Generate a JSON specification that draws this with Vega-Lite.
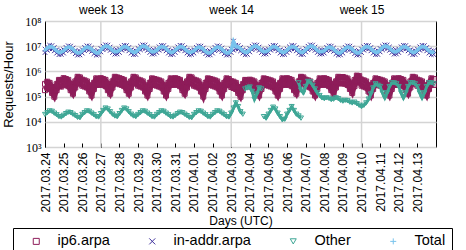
{
"$schema":"https://vega.github.io/schema/vega-lite/v6.json",
"width":391,"height":126,
"autosize":{"type":"none"},
"padding":{"left":45,"top":21,"right":30,"bottom":103},
"config":{"view":{"stroke":"#000","strokeWidth":1},"font":"Liberation Sans",
"axis":{"labelColor":"#000","titleColor":"#000","labelFont":"Liberation Sans","titleFont":"Liberation Sans","titleFontWeight":"normal"},
"axisY":{"labelFont":"Liberation Serif","labelFontSize":12,"grid":true,"gridColor":"#d4d4d4","gridWidth":1.5,"ticks":false,"domain":false,"labelPadding":4,"titleFontSize":13,"titlePadding":9}},
"data":{"values":[
{"t":"2017-03-24T00:00Z","p":3.2e5,"q":1.8e5,"a":7.7e6,"b":5.6e6,"o":1.95e4,"u":6.9e6},
{"t":"2017-03-24T03:00Z","p":3.9e5,"q":2.2e5,"a":9.5e6,"b":6.9e6,"o":2.3e4,"u":8.5e6},
{"t":"2017-03-24T06:00Z","p":3.5e5,"q":2.0e5,"a":1.09e7,"b":7.9e6,"o":2.7e4,"u":9.7e6},
{"t":"2017-03-24T09:00Z","p":2.4e5,"q":1.4e5,"a":1.06e7,"b":7.7e6,"o":2.6e4,"u":9.4e6},
{"t":"2017-03-24T12:00Z","p":1.7e5,"q":9.9e4,"a":8.9e6,"b":6.5e6,"o":2.2e4,"u":8.0e6},
{"t":"2017-03-24T15:00Z","p":3.1e5,"q":1.8e5,"a":7.2e6,"b":5.3e6,"o":1.9e4,"u":6.5e6},
{"t":"2017-03-24T18:00Z","p":4.6e5,"q":2.7e5,"a":6.4e6,"b":4.6e6,"o":1.6e4,"u":5.7e6},
{"t":"2017-03-24T21:00Z","p":4.4e5,"q":2.5e5,"a":6.6e6,"b":4.7e6,"o":1.55e4,"u":5.8e6},
{"t":"2017-03-25T00:00Z","p":5.4e5,"q":3.1e5,"a":7.3e6,"b":5.3e6,"o":1.8e4,"u":6.6e6},
{"t":"2017-03-25T03:00Z","p":5.0e5,"q":2.9e5,"a":9.0e6,"b":6.6e6,"o":2.1e4,"u":8.1e6},
{"t":"2017-03-25T06:00Z","p":4.6e5,"q":2.6e5,"a":1.04e7,"b":7.5e6,"o":2.4e4,"u":9.2e6},
{"t":"2017-03-25T09:00Z","p":3.2e5,"q":1.8e5,"a":1.01e7,"b":7.3e6,"o":2.3e4,"u":8.9e6},
{"t":"2017-03-25T12:00Z","p":2.2e5,"q":1.3e5,"a":8.5e6,"b":6.2e6,"o":2.0e4,"u":7.6e6},
{"t":"2017-03-25T15:00Z","p":4.0e5,"q":2.3e5,"a":6.8e6,"b":5.0e6,"o":1.75e4,"u":6.2e6},
{"t":"2017-03-25T18:00Z","p":6.1e5,"q":3.5e5,"a":6.1e6,"b":4.4e6,"o":1.5e4,"u":5.4e6},
{"t":"2017-03-25T21:00Z","p":5.8e5,"q":3.3e5,"a":6.3e6,"b":4.5e6,"o":1.45e4,"u":5.5e6},
{"t":"2017-03-26T00:00Z","p":4.7e5,"q":2.7e5,"a":7.3e6,"b":5.3e6,"o":1.95e4,"u":6.6e6},
{"t":"2017-03-26T03:00Z","p":4.4e5,"q":2.5e5,"a":9.0e6,"b":6.6e6,"o":2.3e4,"u":8.1e6},
{"t":"2017-03-26T06:00Z","p":4.0e5,"q":2.3e5,"a":1.04e7,"b":7.5e6,"o":2.7e4,"u":9.2e6},
{"t":"2017-03-26T09:00Z","p":2.8e5,"q":1.6e5,"a":1.01e7,"b":7.3e6,"o":2.6e4,"u":8.9e6},
{"t":"2017-03-26T12:00Z","p":2.0e5,"q":1.1e5,"a":8.5e6,"b":6.2e6,"o":2.2e4,"u":7.6e6},
{"t":"2017-03-26T15:00Z","p":3.5e5,"q":2.0e5,"a":6.8e6,"b":5.0e6,"o":1.9e4,"u":6.2e6},
{"t":"2017-03-26T18:00Z","p":5.3e5,"q":3.0e5,"a":6.1e6,"b":4.4e6,"o":1.6e4,"u":5.4e6},
{"t":"2017-03-26T21:00Z","p":5.0e5,"q":2.9e5,"a":6.3e6,"b":4.5e6,"o":1.55e4,"u":5.5e6},
{"t":"2017-03-27T00:00Z","p":5.4e5,"q":3.1e5,"a":8.1e6,"b":5.9e6,"o":2.1e4,"u":7.2e6},
{"t":"2017-03-27T03:00Z","p":5.0e5,"q":2.9e5,"a":1.0e7,"b":7.2e6,"o":2.8e4,"u":8.9e6},
{"t":"2017-03-27T06:00Z","p":4.6e5,"q":2.6e5,"a":1.14e7,"b":8.3e6,"o":3.5e4,"u":1.02e7},
{"t":"2017-03-27T09:00Z","p":3.2e5,"q":1.8e5,"a":1.11e7,"b":8.1e6,"o":3.2e4,"u":9.9e6},
{"t":"2017-03-27T12:00Z","p":2.2e5,"q":1.3e5,"a":9.3e6,"b":6.8e6,"o":2.5e4,"u":8.4e6},
{"t":"2017-03-27T15:00Z","p":4.0e5,"q":2.3e5,"a":7.6e6,"b":5.6e6,"o":2.0e4,"u":6.8e6},
{"t":"2017-03-27T18:00Z","p":6.1e5,"q":3.5e5,"a":6.7e6,"b":4.8e6,"o":1.7e4,"u":6.0e6},
{"t":"2017-03-27T21:00Z","p":5.8e5,"q":3.3e5,"a":6.9e6,"b":4.9e6,"o":1.6e4,"u":6.1e6},
{"t":"2017-03-28T00:00Z","p":5.4e5,"q":3.1e5,"a":7.7e6,"b":5.6e6,"o":2.1e4,"u":6.9e6},
{"t":"2017-03-28T03:00Z","p":5.0e5,"q":2.9e5,"a":9.5e6,"b":6.9e6,"o":2.8e4,"u":8.5e6},
{"t":"2017-03-28T06:00Z","p":4.6e5,"q":2.6e5,"a":1.09e7,"b":7.9e6,"o":3.5e4,"u":9.7e6},
{"t":"2017-03-28T09:00Z","p":3.2e5,"q":1.8e5,"a":1.06e7,"b":7.7e6,"o":3.2e4,"u":9.4e6},
{"t":"2017-03-28T12:00Z","p":2.2e5,"q":1.3e5,"a":8.9e6,"b":6.5e6,"o":2.5e4,"u":8.0e6},
{"t":"2017-03-28T15:00Z","p":4.0e5,"q":2.3e5,"a":7.2e6,"b":5.3e6,"o":2.0e4,"u":6.5e6},
{"t":"2017-03-28T18:00Z","p":6.1e5,"q":3.5e5,"a":6.4e6,"b":4.6e6,"o":1.7e4,"u":5.7e6},
{"t":"2017-03-28T21:00Z","p":5.8e5,"q":3.3e5,"a":6.6e6,"b":4.7e6,"o":1.6e4,"u":5.8e6},
{"t":"2017-03-29T00:00Z","p":4.7e5,"q":2.7e5,"a":8.1e6,"b":5.9e6,"o":1.95e4,"u":7.2e6},
{"t":"2017-03-29T03:00Z","p":4.4e5,"q":2.5e5,"a":1.0e7,"b":7.2e6,"o":2.3e4,"u":8.9e6},
{"t":"2017-03-29T06:00Z","p":4.0e5,"q":2.3e5,"a":1.14e7,"b":8.3e6,"o":2.7e4,"u":1.02e7},
{"t":"2017-03-29T09:00Z","p":2.8e5,"q":1.6e5,"a":1.11e7,"b":8.1e6,"o":2.6e4,"u":9.9e6},
{"t":"2017-03-29T12:00Z","p":2.0e5,"q":1.1e5,"a":9.3e6,"b":6.8e6,"o":2.2e4,"u":8.4e6},
{"t":"2017-03-29T15:00Z","p":3.5e5,"q":2.0e5,"a":7.6e6,"b":5.6e6,"o":1.9e4,"u":6.8e6},
{"t":"2017-03-29T18:00Z","p":5.3e5,"q":3.0e5,"a":6.7e6,"b":4.8e6,"o":1.6e4,"u":6.0e6},
{"t":"2017-03-29T21:00Z","p":5.0e5,"q":2.9e5,"a":6.9e6,"b":4.9e6,"o":1.55e4,"u":6.1e6},
{"t":"2017-03-30T00:00Z","p":4.7e5,"q":2.7e5,"a":7.7e6,"b":5.6e6,"o":1.95e4,"u":6.9e6},
{"t":"2017-03-30T03:00Z","p":4.4e5,"q":2.5e5,"a":9.5e6,"b":6.9e6,"o":2.3e4,"u":8.5e6},
{"t":"2017-03-30T06:00Z","p":4.0e5,"q":2.3e5,"a":1.09e7,"b":7.9e6,"o":2.7e4,"u":9.7e6},
{"t":"2017-03-30T09:00Z","p":2.8e5,"q":1.6e5,"a":1.06e7,"b":7.7e6,"o":2.6e4,"u":9.4e6},
{"t":"2017-03-30T12:00Z","p":2.0e5,"q":1.1e5,"a":8.9e6,"b":6.5e6,"o":2.2e4,"u":8.0e6},
{"t":"2017-03-30T15:00Z","p":3.5e5,"q":2.0e5,"a":7.2e6,"b":5.3e6,"o":1.9e4,"u":6.5e6},
{"t":"2017-03-30T18:00Z","p":5.3e5,"q":3.0e5,"a":6.4e6,"b":4.6e6,"o":1.6e4,"u":5.7e6},
{"t":"2017-03-30T21:00Z","p":5.0e5,"q":2.9e5,"a":6.6e6,"b":4.7e6,"o":1.55e4,"u":5.8e6},
{"t":"2017-03-31T00:00Z","p":5.4e5,"q":3.1e5,"a":7.7e6,"b":5.6e6,"o":1.8e4,"u":6.9e6},
{"t":"2017-03-31T03:00Z","p":5.0e5,"q":2.9e5,"a":9.5e6,"b":6.9e6,"o":2.1e4,"u":8.5e6},
{"t":"2017-03-31T06:00Z","p":4.6e5,"q":2.6e5,"a":1.09e7,"b":7.9e6,"o":2.4e4,"u":9.7e6},
{"t":"2017-03-31T09:00Z","p":3.2e5,"q":1.8e5,"a":1.06e7,"b":7.7e6,"o":2.3e4,"u":9.4e6},
{"t":"2017-03-31T12:00Z","p":2.2e5,"q":1.3e5,"a":8.9e6,"b":6.5e6,"o":2.0e4,"u":8.0e6},
{"t":"2017-03-31T15:00Z","p":4.0e5,"q":2.3e5,"a":7.2e6,"b":5.3e6,"o":1.75e4,"u":6.5e6},
{"t":"2017-03-31T18:00Z","p":6.1e5,"q":3.5e5,"a":6.4e6,"b":4.6e6,"o":1.5e4,"u":5.7e6},
{"t":"2017-03-31T21:00Z","p":5.8e5,"q":3.3e5,"a":6.6e6,"b":4.7e6,"o":1.45e4,"u":5.8e6},
{"t":"2017-04-01T00:00Z","p":4.7e5,"q":2.7e5,"a":7.3e6,"b":5.3e6,"o":1.95e4,"u":6.6e6},
{"t":"2017-04-01T03:00Z","p":4.4e5,"q":2.5e5,"a":9.0e6,"b":6.6e6,"o":2.3e4,"u":8.1e6},
{"t":"2017-04-01T06:00Z","p":4.0e5,"q":2.3e5,"a":1.04e7,"b":7.5e6,"o":2.7e4,"u":9.2e6},
{"t":"2017-04-01T09:00Z","p":2.8e5,"q":1.6e5,"a":1.01e7,"b":7.3e6,"o":2.6e4,"u":8.9e6},
{"t":"2017-04-01T12:00Z","p":1.8e5,"q":1.0e5,"a":8.5e6,"b":6.2e6,"o":2.2e4,"u":7.6e6},
{"t":"2017-04-01T15:00Z","p":3.5e5,"q":2.0e5,"a":6.8e6,"b":5.0e6,"o":1.9e4,"u":6.2e6},
{"t":"2017-04-01T18:00Z","p":5.3e5,"q":3.0e5,"a":6.1e6,"b":4.4e6,"o":1.6e4,"u":5.4e6},
{"t":"2017-04-01T21:00Z","p":5.0e5,"q":2.9e5,"a":6.3e6,"b":4.5e6,"o":1.55e4,"u":5.5e6},
{"t":"2017-04-02T00:00Z","p":4.7e5,"q":2.7e5,"a":7.3e6,"b":5.3e6,"o":1.95e4,"u":6.6e6},
{"t":"2017-04-02T03:00Z","p":4.4e5,"q":2.5e5,"a":9.0e6,"b":6.6e6,"o":2.3e4,"u":8.1e6},
{"t":"2017-04-02T06:00Z","p":4.0e5,"q":2.3e5,"a":1.04e7,"b":7.5e6,"o":2.7e4,"u":9.2e6},
{"t":"2017-04-02T09:00Z","p":2.8e5,"q":1.6e5,"a":1.01e7,"b":7.3e6,"o":2.6e4,"u":8.9e6},
{"t":"2017-04-02T12:00Z","p":2.0e5,"q":1.1e5,"a":8.5e6,"b":6.2e6,"o":2.2e4,"u":7.6e6},
{"t":"2017-04-02T15:00Z","p":3.5e5,"q":2.0e5,"a":6.8e6,"b":5.0e6,"o":1.9e4,"u":6.2e6},
{"t":"2017-04-02T18:00Z","p":5.3e5,"q":3.0e5,"a":6.1e6,"b":4.4e6,"o":1.6e4,"u":5.4e6},
{"t":"2017-04-02T21:00Z","p":5.0e5,"q":2.9e5,"a":6.3e6,"b":4.5e6,"o":1.55e4,"u":5.5e6},
{"t":"2017-04-03T00:00Z","p":4.1e5,"q":2.4e5,"a":7.7e6,"b":5.6e6,"o":2.2e4,"u":6.9e6},
{"t":"2017-04-03T03:00Z","p":3.9e5,"q":2.2e5,"a":1.6e7,"b":6.9e6,"o":3.5e4,"u":1.5e7},
{"t":"2017-04-03T06:00Z","p":3.5e5,"q":2.0e5,"a":1.09e7,"b":7.9e6,"o":5.6e4,"u":9.7e6},
{"t":"2017-04-03T09:00Z","p":2.4e5,"q":1.4e5,"a":1.06e7,"b":7.7e6,"o":4.0e4,"u":9.4e6},
{"t":"2017-04-03T12:00Z","p":1.7e5,"q":9.9e4,"a":8.9e6,"b":6.5e6,"o":2.5e4,"u":8.0e6},
{"t":"2017-04-03T15:00Z","p":3.1e5,"q":1.8e5,"a":7.2e6,"b":5.3e6,"o":2.0e4,"u":6.5e6},
{"t":"2017-04-03T18:00Z","p":4.6e5,"q":2.7e5,"a":6.4e6,"b":4.6e6,"w":2.0e5,"u":5.7e6},
{"t":"2017-04-03T21:00Z","p":4.4e5,"q":2.5e5,"a":6.6e6,"b":4.7e6,"w":2.2e5,"u":5.8e6},
{"t":"2017-04-04T00:00Z","p":4.7e5,"q":2.7e5,"a":8.1e6,"b":5.9e6,"w":2.4e5,"u":7.2e6},
{"t":"2017-04-04T03:00Z","p":4.4e5,"q":2.5e5,"a":1.0e7,"b":7.2e6,"w":1.6e5,"u":8.9e6},
{"t":"2017-04-04T06:00Z","p":4.0e5,"q":2.3e5,"a":1.14e7,"b":8.3e6,"w":7.9e4,"u":1.02e7},
{"t":"2017-04-04T09:00Z","p":2.8e5,"q":1.6e5,"a":1.11e7,"b":8.1e6,"w":1.26e5,"u":9.9e6},
{"t":"2017-04-04T12:00Z","p":2.0e5,"q":1.1e5,"a":9.3e6,"b":6.8e6,"w":2.2e5,"u":8.4e6},
{"t":"2017-04-04T15:00Z","p":3.5e5,"q":2.0e5,"a":7.6e6,"b":5.6e6,"w":2.0e5,"u":6.8e6},
{"t":"2017-04-04T18:00Z","p":5.3e5,"q":3.0e5,"a":6.7e6,"b":4.8e6,"o":1.6e4,"u":6.0e6},
{"t":"2017-04-04T21:00Z","p":5.0e5,"q":2.9e5,"a":6.9e6,"b":4.9e6,"o":1.4e4,"u":6.1e6},
{"t":"2017-04-05T00:00Z","p":4.7e5,"q":2.7e5,"a":7.7e6,"b":5.6e6,"o":2.0e4,"u":6.9e6},
{"t":"2017-04-05T03:00Z","p":4.4e5,"q":2.5e5,"a":9.5e6,"b":6.9e6,"o":2.8e4,"u":8.5e6},
{"t":"2017-04-05T06:00Z","p":4.0e5,"q":2.3e5,"a":1.09e7,"b":7.9e6,"o":3.8e4,"u":9.7e6},
{"t":"2017-04-05T09:00Z","p":2.8e5,"q":1.6e5,"a":1.06e7,"b":7.7e6,"o":3.2e4,"u":9.4e6},
{"t":"2017-04-05T12:00Z","p":2.0e5,"q":1.1e5,"a":8.9e6,"b":6.5e6,"o":2.2e4,"u":8.0e6},
{"t":"2017-04-05T15:00Z","p":3.5e5,"q":2.0e5,"a":7.2e6,"b":5.3e6,"o":1.6e4,"u":6.5e6},
{"t":"2017-04-05T18:00Z","p":5.3e5,"q":3.0e5,"a":6.4e6,"b":4.6e6,"o":1.2e4,"u":5.7e6},
{"t":"2017-04-05T21:00Z","p":5.0e5,"q":2.9e5,"a":6.6e6,"b":4.7e6,"o":1.26e4,"u":5.8e6},
{"t":"2017-04-06T00:00Z","p":5.4e5,"q":3.1e5,"a":7.7e6,"b":5.6e6,"o":2.0e4,"u":6.9e6},
{"t":"2017-04-06T03:00Z","p":5.0e5,"q":2.9e5,"a":9.5e6,"b":6.9e6,"o":2.8e4,"u":8.5e6},
{"t":"2017-04-06T06:00Z","p":4.6e5,"q":2.6e5,"a":1.09e7,"b":7.9e6,"o":4.0e4,"u":9.7e6},
{"t":"2017-04-06T09:00Z","p":3.2e5,"q":1.8e5,"a":1.06e7,"b":7.7e6,"o":2.8e4,"u":9.4e6},
{"t":"2017-04-06T12:00Z","p":2.2e5,"q":1.3e5,"a":8.9e6,"b":6.5e6,"o":2.0e4,"u":8.0e6},
{"t":"2017-04-06T15:00Z","p":4.0e5,"q":2.3e5,"a":7.2e6,"b":5.3e6,"o":1.7e4,"w":3.5e5,"u":6.5e6},
{"t":"2017-04-06T18:00Z","p":6.1e5,"q":3.5e5,"a":6.4e6,"b":4.6e6,"o":1.4e4,"w":1.8e5,"u":5.7e6},
{"t":"2017-04-06T21:00Z","p":5.8e5,"q":3.3e5,"a":6.6e6,"b":4.7e6,"w":1.4e5,"u":5.8e6},
{"t":"2017-04-07T00:00Z","p":4.7e5,"q":2.7e5,"a":8.1e6,"b":5.9e6,"w":2.5e5,"u":7.2e6},
{"t":"2017-04-07T03:00Z","p":4.4e5,"q":2.5e5,"a":1.0e7,"b":7.2e6,"w":4.0e5,"u":8.9e6},
{"t":"2017-04-07T06:00Z","p":4.0e5,"q":2.3e5,"a":1.14e7,"b":8.3e6,"w":3.8e5,"u":1.02e7},
{"t":"2017-04-07T09:00Z","p":2.8e5,"q":1.6e5,"a":1.11e7,"b":8.1e6,"w":2.8e5,"u":9.9e6},
{"t":"2017-04-07T12:00Z","p":2.0e5,"q":1.1e5,"a":9.3e6,"b":6.8e6,"w":2.0e5,"u":8.4e6},
{"t":"2017-04-07T15:00Z","p":3.5e5,"q":2.0e5,"a":7.6e6,"b":5.6e6,"w":1.4e5,"u":6.8e6},
{"t":"2017-04-07T18:00Z","p":5.3e5,"q":3.0e5,"a":6.7e6,"b":4.8e6,"w":1.1e5,"u":6.0e6},
{"t":"2017-04-07T21:00Z","p":5.0e5,"q":2.9e5,"a":6.9e6,"b":4.9e6,"w":8.9e4,"u":6.1e6},
{"t":"2017-04-08T00:00Z","p":5.4e5,"q":3.1e5,"a":7.3e6,"b":5.3e6,"w":8.3e4,"u":6.6e6},
{"t":"2017-04-08T03:00Z","p":5.0e5,"q":2.9e5,"a":9.0e6,"b":6.6e6,"w":8.9e4,"u":8.1e6},
{"t":"2017-04-08T06:00Z","p":4.6e5,"q":2.6e5,"a":1.04e7,"b":7.5e6,"w":8.5e4,"u":9.2e6},
{"t":"2017-04-08T09:00Z","p":3.2e5,"q":1.8e5,"a":1.01e7,"b":7.3e6,"w":7.6e4,"u":8.9e6},
{"t":"2017-04-08T12:00Z","p":2.2e5,"q":1.3e5,"a":8.5e6,"b":6.2e6,"w":7.9e4,"u":7.6e6},
{"t":"2017-04-08T15:00Z","p":4.0e5,"q":2.3e5,"a":6.8e6,"b":5.0e6,"w":8.9e4,"u":6.2e6},
{"t":"2017-04-08T18:00Z","p":6.1e5,"q":3.5e5,"a":6.1e6,"b":4.4e6,"w":8.3e4,"u":5.4e6},
{"t":"2017-04-08T21:00Z","p":5.8e5,"q":3.3e5,"a":6.3e6,"b":4.5e6,"w":7.1e4,"u":5.5e6},
{"t":"2017-04-09T00:00Z","p":6.0e5,"q":3.4e5,"a":7.3e6,"b":5.3e6,"w":6.6e4,"u":6.6e6},
{"t":"2017-04-09T03:00Z","p":5.6e5,"q":3.2e5,"a":9.0e6,"b":6.6e6,"w":7.1e4,"u":8.1e6},
{"t":"2017-04-09T06:00Z","p":5.2e5,"q":2.9e5,"a":1.04e7,"b":7.5e6,"w":6.8e4,"u":9.2e6},
{"t":"2017-04-09T09:00Z","p":3.6e5,"q":2.0e5,"a":1.01e7,"b":7.3e6,"w":6.0e4,"u":8.9e6},
{"t":"2017-04-09T12:00Z","p":2.5e5,"q":1.4e5,"a":8.5e6,"b":6.2e6,"w":5.6e4,"u":7.6e6},
{"t":"2017-04-09T15:00Z","p":4.5e5,"q":2.6e5,"a":6.8e6,"b":5.0e6,"w":6.0e4,"u":6.2e6},
{"t":"2017-04-09T18:00Z","p":6.8e5,"q":3.9e5,"a":6.1e6,"b":4.4e6,"w":5.2e4,"u":5.4e6},
{"t":"2017-04-09T21:00Z","p":6.5e5,"q":3.7e5,"a":6.3e6,"b":4.5e6,"w":4.5e4,"u":5.5e6},
{"t":"2017-04-10T00:00Z","p":4.7e5,"q":2.7e5,"a":7.7e6,"b":5.6e6,"w":4.0e4,"u":6.9e6},
{"t":"2017-04-10T03:00Z","p":4.4e5,"q":2.5e5,"a":9.5e6,"b":6.9e6,"w":4.5e4,"u":8.5e6},
{"t":"2017-04-10T06:00Z","p":4.0e5,"q":2.3e5,"a":1.09e7,"b":7.9e6,"w":5.6e4,"u":9.7e6},
{"t":"2017-04-10T09:00Z","p":2.8e5,"q":1.6e5,"a":1.06e7,"b":7.7e6,"w":7.9e4,"u":9.4e6},
{"t":"2017-04-10T12:00Z","p":2.0e5,"q":1.1e5,"a":8.9e6,"b":6.5e6,"w":1.26e5,"u":8.0e6},
{"t":"2017-04-10T15:00Z","p":3.5e5,"q":2.0e5,"a":7.2e6,"b":5.3e6,"w":2.2e5,"u":6.5e6},
{"t":"2017-04-10T18:00Z","p":5.3e5,"q":3.0e5,"a":6.4e6,"b":4.6e6,"w":3.2e5,"u":5.7e6},
{"t":"2017-04-10T21:00Z","p":5.0e5,"q":2.9e5,"a":6.6e6,"b":4.7e6,"w":2.8e5,"u":5.8e6},
{"t":"2017-04-11T00:00Z","p":4.7e5,"q":2.7e5,"a":8.1e6,"b":5.9e6,"w":2.5e5,"u":7.2e6},
{"t":"2017-04-11T03:00Z","p":4.4e5,"q":2.5e5,"a":1.0e7,"b":7.2e6,"w":1.4e5,"u":8.9e6},
{"t":"2017-04-11T06:00Z","p":4.0e5,"q":2.3e5,"a":1.14e7,"b":8.3e6,"w":8.9e4,"u":1.02e7},
{"t":"2017-04-11T09:00Z","p":2.8e5,"q":1.6e5,"a":1.11e7,"b":8.1e6,"w":1.4e5,"u":9.9e6},
{"t":"2017-04-11T12:00Z","p":2.0e5,"q":1.1e5,"a":9.3e6,"b":6.8e6,"w":2.5e5,"u":8.4e6},
{"t":"2017-04-11T15:00Z","p":3.5e5,"q":2.0e5,"a":7.6e6,"b":5.6e6,"w":3.5e5,"u":6.8e6},
{"t":"2017-04-11T18:00Z","p":5.3e5,"q":3.0e5,"a":6.7e6,"b":4.8e6,"w":3.5e5,"u":6.0e6},
{"t":"2017-04-11T21:00Z","p":5.0e5,"q":2.9e5,"a":6.9e6,"b":4.9e6,"w":3.2e5,"u":6.1e6},
{"t":"2017-04-12T00:00Z","p":5.4e5,"q":3.1e5,"a":7.7e6,"b":5.6e6,"w":2.5e5,"u":6.9e6},
{"t":"2017-04-12T03:00Z","p":5.0e5,"q":2.9e5,"a":9.5e6,"b":6.9e6,"w":1.4e5,"u":8.5e6},
{"t":"2017-04-12T06:00Z","p":4.6e5,"q":2.6e5,"a":1.09e7,"b":7.9e6,"w":8.9e4,"u":9.7e6},
{"t":"2017-04-12T09:00Z","p":3.2e5,"q":1.8e5,"a":1.06e7,"b":7.7e6,"w":1.4e5,"u":9.4e6},
{"t":"2017-04-12T12:00Z","p":2.2e5,"q":1.3e5,"a":8.9e6,"b":6.5e6,"w":2.5e5,"u":8.0e6},
{"t":"2017-04-12T15:00Z","p":4.0e5,"q":2.3e5,"a":7.2e6,"b":5.3e6,"w":3.5e5,"u":6.5e6},
{"t":"2017-04-12T18:00Z","p":6.1e5,"q":3.5e5,"a":6.4e6,"b":4.6e6,"w":3.5e5,"u":5.7e6},
{"t":"2017-04-12T21:00Z","p":5.8e5,"q":3.3e5,"a":6.6e6,"b":4.7e6,"w":3.2e5,"u":5.8e6},
{"t":"2017-04-13T00:00Z","p":4.7e5,"q":2.7e5,"a":7.7e6,"b":5.6e6,"w":2.5e5,"u":6.9e6},
{"t":"2017-04-13T03:00Z","p":4.4e5,"q":2.5e5,"a":9.5e6,"b":6.9e6,"w":1.4e5,"u":8.5e6},
{"t":"2017-04-13T06:00Z","p":4.0e5,"q":2.3e5,"a":1.09e7,"b":7.9e6,"w":8.9e4,"u":9.7e6},
{"t":"2017-04-13T09:00Z","p":2.8e5,"q":1.6e5,"a":1.06e7,"b":7.7e6,"w":1.4e5,"u":9.4e6},
{"t":"2017-04-13T12:00Z","p":2.0e5,"q":1.1e5,"a":8.9e6,"b":6.5e6,"w":2.5e5,"u":8.0e6},
{"t":"2017-04-13T15:00Z","p":3.5e5,"q":2.0e5,"a":7.2e6,"b":5.3e6,"w":3.5e5,"u":6.5e6},
{"t":"2017-04-13T18:00Z","p":5.3e5,"q":3.0e5,"a":6.4e6,"b":4.6e6,"w":3.5e5,"u":5.7e6},
{"t":"2017-04-13T21:00Z","p":5.0e5,"q":2.9e5,"a":6.6e6,"b":4.7e6,"w":3.2e5,"u":5.8e6}
]},
"layer":[
{"data":{"values":[{"w":"2017-03-27T00:00Z"},{"w":"2017-04-03T00:00Z"},{"w":"2017-04-10T00:00Z"}]},
"mark":{"type":"rule","color":"#d4d4d4","strokeWidth":1.5},
"encoding":{"x":{"field":"w","type":"temporal","scale":{"type":"utc","nice":false,"domain":[{"year":2017,"month":3,"date":24,"utc":true},{"year":2017,"month":4,"date":14,"utc":true}]},
"axis":{"orient":"top","format":"week %V","values":[{"year":2017,"month":3,"date":27,"utc":true},{"year":2017,"month":4,"date":3,"utc":true},{"year":2017,"month":4,"date":10,"utc":true}],"ticks":false,"domain":false,"grid":false,"labelPadding":5,"labelFontSize":12,"title":null}}}},
{"mark":{"type":"line","color":"#8e1d5a","strokeWidth":5,"opacity":1},
"encoding":{"x":{"field":"t","type":"temporal","scale":{"type":"utc","nice":false,"domain":[{"year":2017,"month":3,"date":24,"utc":true},{"year":2017,"month":4,"date":14,"utc":true}]},"axis":null},
"y":{"field":"p","type":"quantitative","scale":{"type":"log","domain":[1000,100000000],"nice":false},"axis":{"values":[1000,10000,100000,1000000,10000000,100000000],"labelExpr":"'10' + ['⁰','¹','²','³','⁴','⁵','⁶','⁷','⁸'][round(log(datum.value)/LN10)]","title":"Requests/Hour"}}}},
{"mark":{"type":"line","color":"#8e1d5a","strokeWidth":5,"opacity":1},
"encoding":{"x":{"field":"t","type":"temporal","scale":{"type":"utc","nice":false,"domain":[{"year":2017,"month":3,"date":24,"utc":true},{"year":2017,"month":4,"date":14,"utc":true}]},"axis":null},
"y":{"field":"q","type":"quantitative","scale":{"type":"log","domain":[1000,100000000],"nice":false},"axis":{"values":[1000,10000,100000,1000000,10000000,100000000],"labelExpr":"'10' + ['⁰','¹','²','³','⁴','⁵','⁶','⁷','⁸'][round(log(datum.value)/LN10)]","title":"Requests/Hour"}}}},
{"transform":[{"fold":["p","q"],"as":["k","v"]},{"lookup":"k","from":{"data":{"values":[{"k":"p","s":"ip6.arpa"},{"k":"q","s":"ip6.arpa"}]},"key":"k","fields":["s"]}}],
"mark":{"type":"point","filled":false,"strokeWidth":1,"opacity":1,"size":25},
"encoding":{"x":{"field":"t","type":"temporal","scale":{"type":"utc","nice":false,"domain":[{"year":2017,"month":3,"date":24,"utc":true},{"year":2017,"month":4,"date":14,"utc":true}]},
"axis":{"orient":"bottom","format":"%Y.%m.%d","labelAngle":270,"labelOverlap":false,"values":[{"year":2017,"month":3,"date":24,"utc":true},{"year":2017,"month":3,"date":25,"utc":true},{"year":2017,"month":3,"date":26,"utc":true},{"year":2017,"month":3,"date":27,"utc":true},{"year":2017,"month":3,"date":28,"utc":true},{"year":2017,"month":3,"date":29,"utc":true},{"year":2017,"month":3,"date":30,"utc":true},{"year":2017,"month":3,"date":31,"utc":true},{"year":2017,"month":4,"date":1,"utc":true},{"year":2017,"month":4,"date":2,"utc":true},{"year":2017,"month":4,"date":3,"utc":true},{"year":2017,"month":4,"date":4,"utc":true},{"year":2017,"month":4,"date":5,"utc":true},{"year":2017,"month":4,"date":6,"utc":true},{"year":2017,"month":4,"date":7,"utc":true},{"year":2017,"month":4,"date":8,"utc":true},{"year":2017,"month":4,"date":9,"utc":true},{"year":2017,"month":4,"date":10,"utc":true},{"year":2017,"month":4,"date":11,"utc":true},{"year":2017,"month":4,"date":12,"utc":true},{"year":2017,"month":4,"date":13,"utc":true}],"tickSize":-4,"tickColor":"#000","labelPadding":9,"grid":false,"domain":false,"labelFontSize":12,"title":"Days (UTC)","titleFontSize":12,"titlePadding":3}},
"y":{"field":"v","type":"quantitative","scale":{"type":"log","domain":[1000,100000000],"nice":false},"axis":{"values":[1000,10000,100000,1000000,10000000,100000000],"labelExpr":"'10' + ['⁰','¹','²','³','⁴','⁵','⁶','⁷','⁸'][round(log(datum.value)/LN10)]","title":"Requests/Hour"}},
"color":{"field":"s","type":"nominal","scale":{"domain":["ip6.arpa","in-addr.arpa","Other","Total"],"range":["#8e1d5a","#3d2f9b","#3fa796","#78c3ec"]},
"legend":{"orient":"none","legendX":-32,"legendY":207,"direction":"horizontal","columns":4,"title":null,"strokeColor":"#000","fillColor":"#fff","padding":6,"labelFontSize":14.5,"labelFont":"Liberation Sans","labelColor":"#000","symbolSize":36,"symbolStrokeWidth":1,"symbolOffset":10,"labelOffset":14,"columnPadding":25}},
"shape":{"field":"s","type":"nominal","scale":{"domain":["ip6.arpa","in-addr.arpa","Other","Total"],"range":["square","M-1,-1L1,1M-1,1L1,-1","triangle-down","M-1,0L1,0M0,-1L0,1"]}}}},
{"mark":{"type":"line","color":"#3fa796","strokeWidth":3,"opacity":1},
"encoding":{"x":{"field":"t","type":"temporal","scale":{"type":"utc","nice":false,"domain":[{"year":2017,"month":3,"date":24,"utc":true},{"year":2017,"month":4,"date":14,"utc":true}]},"axis":null},
"y":{"field":"o","type":"quantitative","scale":{"type":"log","domain":[1000,100000000],"nice":false},"axis":{"values":[1000,10000,100000,1000000,10000000,100000000],"labelExpr":"'10' + ['⁰','¹','²','³','⁴','⁵','⁶','⁷','⁸'][round(log(datum.value)/LN10)]","title":"Requests/Hour"}}}},
{"mark":{"type":"line","color":"#3fa796","strokeWidth":3,"opacity":1},
"encoding":{"x":{"field":"t","type":"temporal","scale":{"type":"utc","nice":false,"domain":[{"year":2017,"month":3,"date":24,"utc":true},{"year":2017,"month":4,"date":14,"utc":true}]},"axis":null},
"y":{"field":"w","type":"quantitative","scale":{"type":"log","domain":[1000,100000000],"nice":false},"axis":{"values":[1000,10000,100000,1000000,10000000,100000000],"labelExpr":"'10' + ['⁰','¹','²','³','⁴','⁵','⁶','⁷','⁸'][round(log(datum.value)/LN10)]","title":"Requests/Hour"}}}},
{"transform":[{"fold":["o","w"],"as":["k","v"]},{"lookup":"k","from":{"data":{"values":[{"k":"o","s":"Other"},{"k":"w","s":"Other"}]},"key":"k","fields":["s"]}}],
"mark":{"type":"point","filled":false,"strokeWidth":1,"opacity":1,"size":25},
"encoding":{"x":{"field":"t","type":"temporal","scale":{"type":"utc","nice":false,"domain":[{"year":2017,"month":3,"date":24,"utc":true},{"year":2017,"month":4,"date":14,"utc":true}]},"axis":null},
"y":{"field":"v","type":"quantitative","scale":{"type":"log","domain":[1000,100000000],"nice":false},"axis":{"values":[1000,10000,100000,1000000,10000000,100000000],"labelExpr":"'10' + ['⁰','¹','²','³','⁴','⁵','⁶','⁷','⁸'][round(log(datum.value)/LN10)]","title":"Requests/Hour"}},
"color":{"field":"s","type":"nominal","scale":{"domain":["ip6.arpa","in-addr.arpa","Other","Total"],"range":["#8e1d5a","#3d2f9b","#3fa796","#78c3ec"]}},
"shape":{"field":"s","type":"nominal","scale":{"domain":["ip6.arpa","in-addr.arpa","Other","Total"],"range":["square","M-1,-1L1,1M-1,1L1,-1","triangle-down","M-1,0L1,0M0,-1L0,1"]}}}},
{"transform":[{"fold":["a","b"],"as":["k","v"]},{"lookup":"k","from":{"data":{"values":[{"k":"a","s":"in-addr.arpa"},{"k":"b","s":"in-addr.arpa"}]},"key":"k","fields":["s"]}}],
"mark":{"type":"point","filled":false,"strokeWidth":1,"opacity":1,"size":20},
"encoding":{"x":{"field":"t","type":"temporal","scale":{"type":"utc","nice":false,"domain":[{"year":2017,"month":3,"date":24,"utc":true},{"year":2017,"month":4,"date":14,"utc":true}]},"axis":null},
"y":{"field":"v","type":"quantitative","scale":{"type":"log","domain":[1000,100000000],"nice":false},"axis":{"values":[1000,10000,100000,1000000,10000000,100000000],"labelExpr":"'10' + ['⁰','¹','²','³','⁴','⁵','⁶','⁷','⁸'][round(log(datum.value)/LN10)]","title":"Requests/Hour"}},
"color":{"field":"s","type":"nominal","scale":{"domain":["ip6.arpa","in-addr.arpa","Other","Total"],"range":["#8e1d5a","#3d2f9b","#3fa796","#78c3ec"]}},
"shape":{"field":"s","type":"nominal","scale":{"domain":["ip6.arpa","in-addr.arpa","Other","Total"],"range":["square","M-1,-1L1,1M-1,1L1,-1","triangle-down","M-1,0L1,0M0,-1L0,1"]}}}},
{"mark":{"type":"line","color":"#78c3ec","strokeWidth":3.5,"opacity":1},
"encoding":{"x":{"field":"t","type":"temporal","scale":{"type":"utc","nice":false,"domain":[{"year":2017,"month":3,"date":24,"utc":true},{"year":2017,"month":4,"date":14,"utc":true}]},"axis":null},
"y":{"field":"u","type":"quantitative","scale":{"type":"log","domain":[1000,100000000],"nice":false},"axis":{"values":[1000,10000,100000,1000000,10000000,100000000],"labelExpr":"'10' + ['⁰','¹','²','³','⁴','⁵','⁶','⁷','⁸'][round(log(datum.value)/LN10)]","title":"Requests/Hour"}}}},
{"transform":[{"fold":["u"],"as":["k","v"]},{"lookup":"k","from":{"data":{"values":[{"k":"u","s":"Total"}]},"key":"k","fields":["s"]}}],
"mark":{"type":"point","filled":false,"strokeWidth":1,"opacity":1,"size":16},
"encoding":{"x":{"field":"t","type":"temporal","scale":{"type":"utc","nice":false,"domain":[{"year":2017,"month":3,"date":24,"utc":true},{"year":2017,"month":4,"date":14,"utc":true}]},"axis":null},
"y":{"field":"v","type":"quantitative","scale":{"type":"log","domain":[1000,100000000],"nice":false},"axis":{"values":[1000,10000,100000,1000000,10000000,100000000],"labelExpr":"'10' + ['⁰','¹','²','³','⁴','⁵','⁶','⁷','⁸'][round(log(datum.value)/LN10)]","title":"Requests/Hour"}},
"color":{"field":"s","type":"nominal","scale":{"domain":["ip6.arpa","in-addr.arpa","Other","Total"],"range":["#8e1d5a","#3d2f9b","#3fa796","#78c3ec"]}},
"shape":{"field":"s","type":"nominal","scale":{"domain":["ip6.arpa","in-addr.arpa","Other","Total"],"range":["square","M-1,-1L1,1M-1,1L1,-1","triangle-down","M-1,0L1,0M0,-1L0,1"]}}}}
],
"resolve":{"scale":{"x":"independent"},"axis":{"x":"independent"}}
}
